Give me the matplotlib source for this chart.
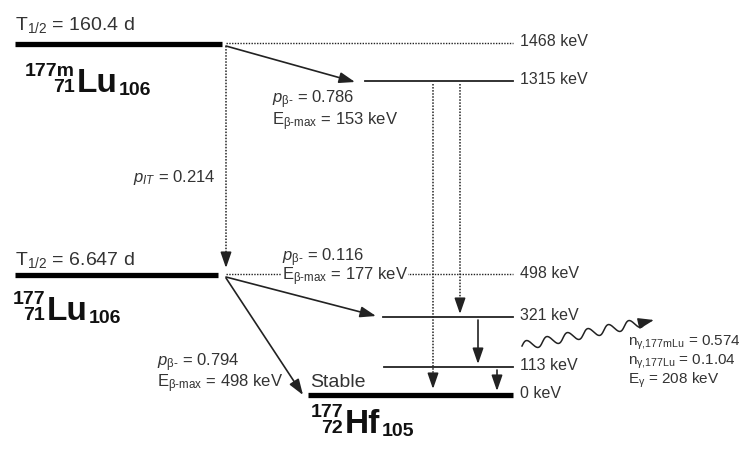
import numpy as np
import matplotlib
matplotlib.use('Agg')
import matplotlib.pyplot as plt

plt.rcParams['font.family'] = ['Liberation Sans', 'DejaVu Sans']
plt.rcParams['mathtext.fontset'] = 'custom'
plt.rcParams['mathtext.rm'] = 'Liberation Sans'
plt.rcParams['mathtext.it'] = 'Liberation Sans:italic'
plt.rcParams['mathtext.bf'] = 'Liberation Sans:bold'

# decay data
level_energies = [1468, 1315, 498, 321, 113, 0]          # keV
half_lives = ['160.4 d', '6.647 d']                      # 177mLu, 177Lu
beta_p = [0.786, 0.116, 0.794]
beta_emax = [153, 177, 498]                              # keV
p_it = 0.214
gamma_n = ['0.574', '0.1.04']                            # as printed
gamma_e = 208

# layout (pixel coordinates of the drawing)
level_y = [43, 81, 274, 317, 367, 395]
level_x0 = [226, 365, 226, 383, 384, 308]
level_style = ['dot', 'thin', 'dot', 'thin', 'thin', 'thick']
level_x1 = 513

INK = '#222222'
TXT = '#333333'

fig = plt.figure(figsize=(7.52, 4.5), dpi=100)
ax = fig.add_axes([0, 0, 1, 1])
ax.set_xlim(0, 752)
ax.set_ylim(450, 0)
ax.axis('off')


def arrow(x0, y0, x1, y1, dotted=False):
    if dotted:
        ax.plot([x0, x1], [y0, y1 - 8], color=INK, lw=1.1, ls=(0, (1, 1)))
        x0, y0 = x1, y1 - 10
    ax.annotate('', xy=(x1, y1), xytext=(x0, y0),
                arrowprops=dict(arrowstyle='-|>,head_length=0.95,head_width=0.33',
                                color=INK, lw=1.2, shrinkA=0, shrinkB=0))


def nuclide(x, y, mass, z, sym, n, big=24, small=14):
    # x: right edge of the prescripts, y: baseline of the symbol
    ax.text(x, y - 16, mass, fontsize=small, fontweight='bold', ha='right',
            va='baseline', color='#111')
    ax.text(x, y, z, fontsize=small, fontweight='bold', ha='right',
            va='baseline', color='#111')
    t = ax.text(x + 2, y, sym, fontsize=big, fontweight='bold', ha='left',
                va='baseline', color='#111')
    r = fig.canvas.get_renderer()
    bb = t.get_window_extent(renderer=r).transformed(ax.transData.inverted())
    ax.text(bb.x1 + 1, y + 3, n, fontsize=small, fontweight='bold',
            ha='left', va='baseline', color='#111')


# parent levels
ax.plot([15, 222], [44, 44], color='black', lw=3.8, solid_capstyle='butt')
ax.plot([15, 218], [275, 275], color='black', lw=3.8, solid_capstyle='butt')
ax.text(15, 30, r'T$_{\mathrm{1/2}}$ = ' + half_lives[0], fontsize=14,
        color=TXT, va='baseline')
ax.text(15, 265, r'T$_{\mathrm{1/2}}$ = ' + half_lives[1], fontsize=14,
        color=TXT, va='baseline')

# daughter levels
for e, y, x0, st in zip(level_energies, level_y, level_x0, level_style):
    if st == 'dot':
        ax.plot([x0, level_x1], [y, y], color=INK, lw=1.0, ls=(0, (1, 1)))
    elif st == 'thin':
        ax.plot([x0, level_x1], [y, y], color=INK, lw=1.3)
    else:
        ax.plot([x0, level_x1], [y, y], color='black', lw=3.8,
                solid_capstyle='butt')
    ax.text(520, y - 1, f'{e} keV', fontsize=11.5, color=TXT, va='center')

ax.text(310, 387, 'Stable', fontsize=14, color=TXT, va='baseline')

# nuclide labels
nuclide(75, 92, '177m', '71', 'Lu', '106')
nuclide(45, 320, '177', '71', 'Lu', '106')
nuclide(343, 433, '177', '72', 'Hf', '105')

# transitions
arrow(226, 46, 355, 82)
arrow(226, 46, 226, 268, dotted=True)
arrow(226, 277, 376, 316)
arrow(226, 278, 303, 395)
arrow(433, 84, 433, 389, dotted=True)
arrow(460, 84, 460, 314, dotted=True)
arrow(478, 320, 478, 364)
arrow(497, 370, 497, 391)

# branch labels
fs = 12
ax.text(272, 103, r'$p_{\mathrm{β}\text{-}}$ = ' + f'{beta_p[0]}', fontsize=fs,
        color=TXT, va='baseline')
ax.text(272, 125, r'E$_{\text{β-max}}$ = ' + f'{beta_emax[0]} keV', fontsize=fs,
        color=TXT, va='baseline')
ax.text(133, 182, r'$p_{IT}$ = ' + f'{p_it}', fontsize=fs, color=TXT,
        va='baseline')
ax.text(282, 261, r'$p_{\mathrm{β}\text{-}}$ = ' + f'{beta_p[1]}', fontsize=fs,
        color=TXT, va='baseline', zorder=5)
ax.text(282, 280, r'E$_{\text{β-max}}$ = ' + f'{beta_emax[1]} keV', fontsize=fs,
        color=TXT, va='baseline', zorder=4,
        bbox=dict(facecolor='white', edgecolor='none', pad=0.0))
ax.text(157, 366, r'$p_{\mathrm{β}\text{-}}$ = ' + f'{beta_p[2]}', fontsize=fs,
        color=TXT, va='baseline')
ax.text(157, 387, r'E$_{\text{β-max}}$ = ' + f'{beta_emax[2]} keV', fontsize=fs,
        color=TXT, va='baseline')

# gamma emission (wavy arrow)
p0 = np.array([522.0, 346.0])
p1 = np.array([645.0, 322.0])
d = p1 - p0
nrm = np.array([d[1], -d[0]]) / np.hypot(*d)
t = np.linspace(0, 1, 300)
wave = 4.5 * np.sin(2 * np.pi * 6.0 * t)
pts = p0[None, :] + t[:, None] * d[None, :] + wave[:, None] * nrm[None, :]
ax.plot(pts[:, 0], pts[:, 1], color=INK, lw=1.1)
ax.annotate('', xy=(654, 320), xytext=(pts[-1, 0], pts[-1, 1]),
            arrowprops=dict(arrowstyle='-|>,head_length=0.95,head_width=0.33',
                            color=INK, lw=1.1, shrinkA=0, shrinkB=0))

ax.text(628, 346, r'n$_{\text{γ,177mLu}}$ = ' + gamma_n[0], fontsize=11,
        color=TXT, va='baseline')
ax.text(628, 365, r'n$_{\text{γ,177Lu}}$ = ' + gamma_n[1], fontsize=11,
        color=TXT, va='baseline')
ax.text(628, 384, r'E$_{\text{γ}}$ = ' + f'{gamma_e} keV', fontsize=11,
        color=TXT, va='baseline')

fig.savefig('out.png', dpi=100, facecolor='white')
